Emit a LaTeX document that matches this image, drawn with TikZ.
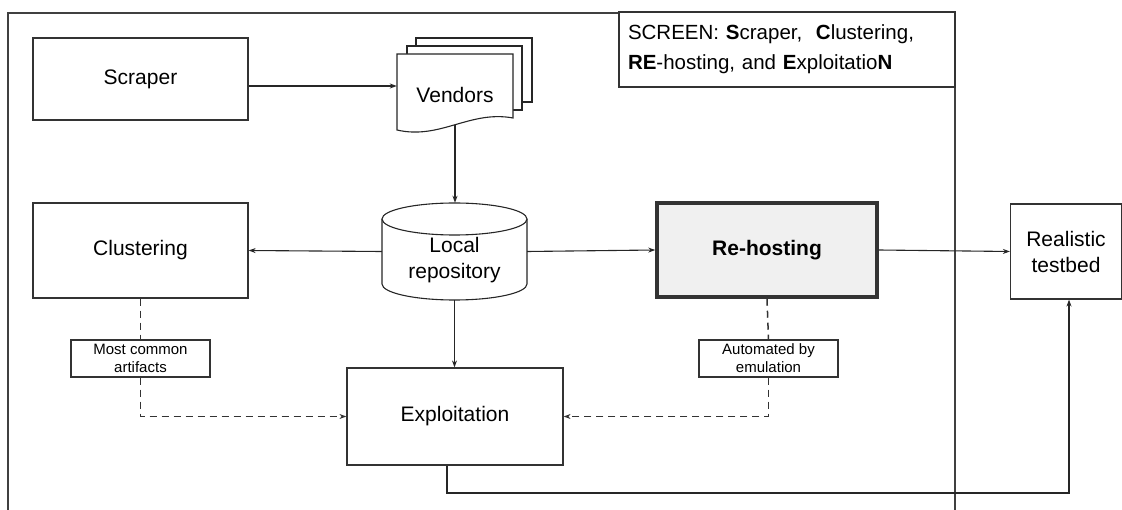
\documentclass[tikz,border=0pt]{standalone}
\usepackage{fontspec}
\setmainfont{Liberation Sans}
\usetikzlibrary{positioning, arrows.meta}

\begin{document}
\begin{tikzpicture}[
      x=1pt, y=-1pt,
      box_node/.style={rectangle, draw=black!80, line width=1.2pt, fill=white, align=center, font=\fontsize{21}{26}\selectfont},
      text_node/.style={align=center, inner sep=0pt, font=\fontsize{21}{26}\selectfont},
      note_node/.style={rectangle, draw=black!80, line width=1.1pt, fill=white, align=center, inner sep=0pt, minimum width=139, minimum height=37, font=\fontsize{15}{18}\selectfont},
      shape_path/.style={line width=1.1pt, draw=black!85, fill=white},
      edge_path/.style={-{Stealth[length=7pt, width=5pt]}, line width=1.1pt, draw=black!85},
      dash_path/.style={-{Stealth[length=7pt, width=5pt]}, line width=1.5pt, draw=black!80, dash pattern=on 7pt off 5pt}
    ]
      \useasboundingbox (0,0) rectangle (1122,510);
      % outer frame, open at the bottom
      \draw[line width=1.1pt, black!75] (8,512) -- (8,13) -- (955,13) -- (955,512);

      \node[box_node, minimum width=215, minimum height=82] (Scraper) at (140.5,79) {Scraper};
      \node[box_node, minimum width=215, minimum height=95] (Clust) at (140.5,250.5) {Clustering};
      \node[box_node, minimum width=220, minimum height=94, line width=3.5pt, fill=black!6] (Rehost) at (767,250) {\textbf{Re-hosting}};
      \node[box_node, minimum width=111, minimum height=95] (Testbed) at (1066,251.5) {Realistic\\testbed};
      \node[box_node, minimum width=216, minimum height=97] (Exploit) at (455,416.5) {Exploitation};
      \node[box_node, minimum width=336, minimum height=75, text width=318, align=left, font=\fontsize{20.5}{30}\selectfont] (Screen) at (787,49.5)
        {SCREEN: \textbf{S}craper,\ \ \textbf{C}lustering,\\\textbf{RE}-hosting, and \textbf{E}xploitatio\textbf{N}};

      % stacked documents
      \draw[shape_path] (416,38) rectangle (532,102);
      \draw[shape_path] (407,46) rectangle (522,110);
      \draw[shape_path] (397,54) -- (513,54) -- (513,118)
        .. controls (470,110) and (440,140) .. (397,130) -- cycle;
      \node[minimum width=116, minimum height=64, inner sep=0pt] (Vendors) at (455,86) {};
      \node[text_node] (VendorsText) at (455,95) {Vendors};

      % database cylinder
      \draw[shape_path] (382,219) -- (382,284) arc (180:0:72.5 and 16) -- (527,219);
      \draw[shape_path] (454.5,219) ellipse (72.5 and 16);
      \node[minimum width=145, minimum height=97, inner sep=0pt] (Repo) at (454.5,251.5) {};
      \node[text_node] (RepoText) at (454.5,260) {Local\\repository};

      \node[note_node] (Common) at (140.5,358.5) {Most common\\artifacts};
      \node[note_node] (Emul) at (768.5,358.5) {Automated by\\emulation};
      \coordinate (turn) at (760,493);

      \draw[edge_path] (Scraper.east |- Vendors.west) -- (Vendors.west);
      \draw[edge_path] ([yshift=-7pt]Vendors.south) -- (Vendors.south |- Repo.north);
      \draw[edge_path] (Repo.west) -- (Clust.east);
      \draw[edge_path] (Repo.east) -- (Rehost.west);
      \draw[edge_path] (Rehost.east) -- (Testbed.west);
      \draw[edge_path] (Repo.south) -- (Repo.south |- Exploit.north);
      \draw[dash_path, -] (Clust.south) -- (Common.north);
      \draw[dash_path] (Common.south) |- (Exploit.west);
      \draw[dash_path, -] (Rehost.south) -- (Emul.north);
      \draw[dash_path] (Emul.south) |- (Exploit.east);
      \draw[edge_path] ([xshift=-8pt]Exploit.south) |- (turn) -| ([xshift=3pt]Testbed.south);
    \end{tikzpicture}
\end{document}
